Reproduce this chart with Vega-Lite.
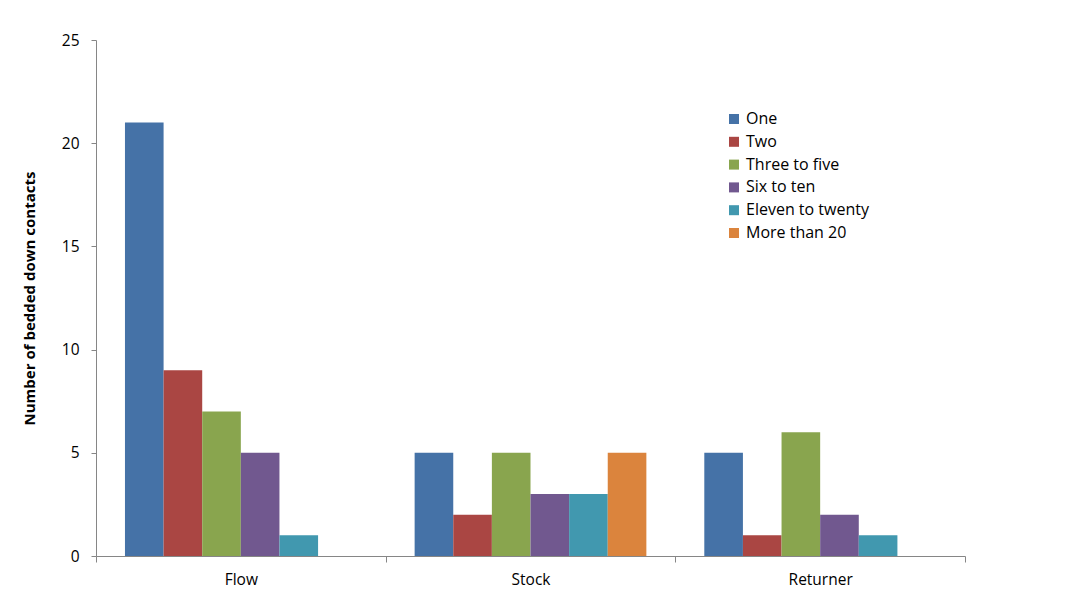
{
  "$schema": "https://vega.github.io/schema/vega-lite/v6.json",
  "autosize": {"type": "none"},
  "padding": {"left": 96, "top": 40, "right": 106, "bottom": 55},
  "width": 869,
  "height": 516,
  "background": "white",
  "config": {
    "view": {"stroke": null},
    "font": "Open Sans"
  },
  "data": {
    "values": [
      {"group": "Flow", "contacts": "One", "count": 21},
      {"group": "Flow", "contacts": "Two", "count": 9},
      {"group": "Flow", "contacts": "Three to five", "count": 7},
      {"group": "Flow", "contacts": "Six to ten", "count": 5},
      {"group": "Flow", "contacts": "Eleven to twenty", "count": 1},
      {"group": "Flow", "contacts": "More than 20", "count": 0},
      {"group": "Stock", "contacts": "One", "count": 5},
      {"group": "Stock", "contacts": "Two", "count": 2},
      {"group": "Stock", "contacts": "Three to five", "count": 5},
      {"group": "Stock", "contacts": "Six to ten", "count": 3},
      {"group": "Stock", "contacts": "Eleven to twenty", "count": 3},
      {"group": "Stock", "contacts": "More than 20", "count": 5},
      {"group": "Returner", "contacts": "One", "count": 5},
      {"group": "Returner", "contacts": "Two", "count": 1},
      {"group": "Returner", "contacts": "Three to five", "count": 6},
      {"group": "Returner", "contacts": "Six to ten", "count": 2},
      {"group": "Returner", "contacts": "Eleven to twenty", "count": 1},
      {"group": "Returner", "contacts": "More than 20", "count": 0}
    ]
  },
  "mark": {"type": "bar"},
  "encoding": {
    "x": {
      "field": "group",
      "type": "nominal",
      "sort": ["Flow", "Stock", "Returner"],
      "scale": {"paddingInner": 0, "paddingOuter": 0},
      "axis": {
        "title": null,
        "labelAngle": 0,
        "labelFontSize": 15.5,
        "labelColor": "#000000",
        "labelPadding": 10,
        "domainColor": "#868686",
        "tickColor": "#868686",
        "tickBand": "extent",
        "tickSize": 6,
        "grid": false
      }
    },
    "xOffset": {
      "field": "contacts",
      "type": "nominal",
      "sort": ["One", "Two", "Three to five", "Six to ten", "Eleven to twenty", "More than 20"],
      "scale": {"paddingInner": 0, "paddingOuter": 0.75}
    },
    "y": {
      "field": "count",
      "type": "quantitative",
      "scale": {"domain": [0, 25], "nice": false},
      "axis": {
        "title": "Number of bedded down contacts",
        "titleFontSize": 15,
        "titleFontWeight": "bold",
        "titleColor": "#000000",
        "titlePadding": 24,
        "values": [0, 5, 10, 15, 20, 25],
        "labelFontSize": 15.5,
        "labelColor": "#000000",
        "labelPadding": 12,
        "tickSize": 5,
        "domainColor": "#868686",
        "tickColor": "#868686",
        "grid": false
      }
    },
    "color": {
      "field": "contacts",
      "type": "nominal",
      "sort": ["One", "Two", "Three to five", "Six to ten", "Eleven to twenty", "More than 20"],
      "scale": {
        "domain": ["One", "Two", "Three to five", "Six to ten", "Eleven to twenty", "More than 20"],
        "range": ["#4572A7", "#AA4643", "#89A54E", "#71588F", "#4198AF", "#DB843D"]
      },
      "legend": {
        "title": null,
        "orient": "none",
        "legendX": 630,
        "legendY": 71,
        "symbolType": "square",
        "symbolSize": 100,
        "symbolStrokeWidth": 0,
        "labelFontSize": 16,
        "labelColor": "#000000",
        "labelOffset": 4,
        "rowPadding": 6.8,
        "labelLimit": 300
      }
    }
  }
}
